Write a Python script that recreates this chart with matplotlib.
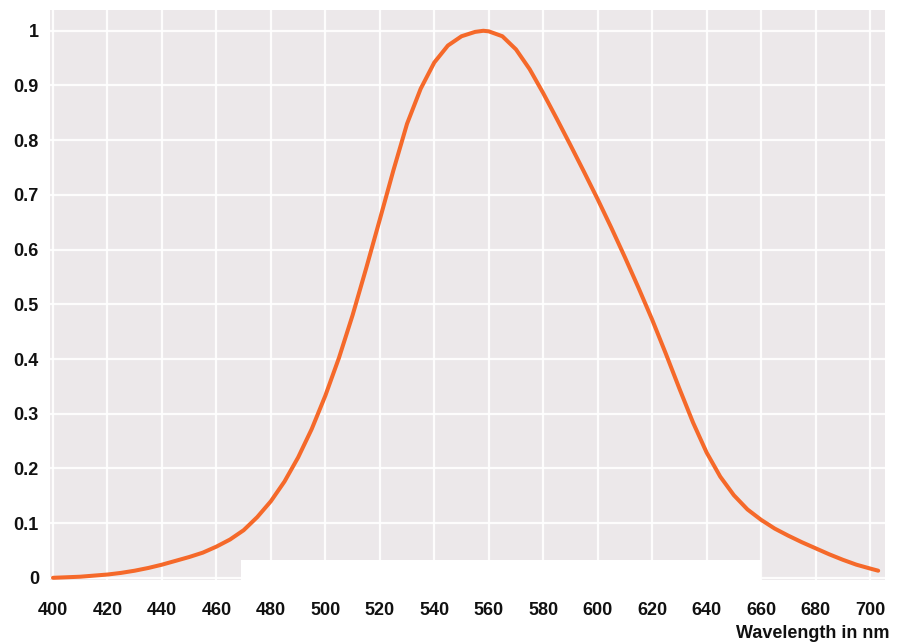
#!/usr/bin/env python3
"""
Relative luminous sensitivity curve vs. wavelength
"""

import matplotlib
matplotlib.use("Agg")
import matplotlib.pyplot as plt
from matplotlib.patches import Rectangle

# wavelength in nm
wavelength = [400, 405, 410, 415, 420, 425, 430, 435, 440, 445, 450, 455,
              460, 465, 470, 475, 480, 485, 490, 495, 500, 505, 510, 515,
              520, 525, 530, 535, 540, 545, 550, 555, 558, 560, 565, 570,
              575, 580, 585, 590, 595, 600, 605, 610, 615, 620, 625, 630,
              635, 640, 645, 650, 655, 660, 665, 670, 675, 680, 685, 690,
              695, 700, 703]
# relative sensitivity
sensitivity = [0.000, 0.001, 0.002, 0.004, 0.006, 0.009, 0.013, 0.018,
               0.024, 0.031, 0.038, 0.046, 0.057, 0.070, 0.087, 0.111,
               0.140, 0.176, 0.220, 0.272, 0.333, 0.402, 0.480, 0.566,
               0.655, 0.745, 0.830, 0.894, 0.942, 0.973, 0.990, 0.998,
               1.000, 0.999, 0.990, 0.966, 0.930, 0.886, 0.839, 0.791,
               0.742, 0.692, 0.640, 0.586, 0.530, 0.472, 0.410, 0.346,
               0.284, 0.229, 0.185, 0.151, 0.125, 0.106, 0.090, 0.077,
               0.065, 0.054, 0.043, 0.033, 0.024, 0.017, 0.013]

x_ticks = list(range(400, 701, 20))
y_ticks = [0, 0.1, 0.2, 0.3, 0.4, 0.5, 0.6, 0.7, 0.8, 0.9, 1.0]
y_tick_labels = ["0", "0.1", "0.2", "0.3", "0.4", "0.5", "0.6", "0.7",
                 "0.8", "0.9", "1"]
x_label = "Wavelength in nm"

plt.rcParams['font.family'] = ['Liberation Sans', 'DejaVu Sans']

fig = plt.figure(figsize=(9.04, 6.43), dpi=100)
fig.patch.set_facecolor('white')
ax = fig.add_axes([50 / 904, 63 / 643, 835 / 904, 570 / 643])
ax.set_facecolor('#ECE8EA')

ax.set_xlim(398.9, 705.5)
ax.set_ylim(-0.004, 1.038)

ax.set_xticks(x_ticks)
ax.set_xticklabels([str(t) for t in x_ticks])
ax.set_yticks(y_ticks)
ax.set_yticklabels(y_tick_labels)
ax.tick_params(axis='both', length=0, labelsize=13, colors='#111111')
ax.tick_params(axis='x', pad=16)
ax.tick_params(axis='y', pad=8)
for lbl in ax.get_xticklabels() + ax.get_yticklabels():
    lbl.set_fontweight('bold')

for s in ax.spines.values():
    s.set_visible(False)

# white grid like the printed graph paper
ax.grid(True, color='white', linewidth=1.6, alpha=0.9)
ax.set_axisbelow(True)

# white strip from the scan along the bottom edge
ax.add_patch(Rectangle((0.229, 0.0), 0.622, 0.035, transform=ax.transAxes,
                       facecolor='white', edgecolor='none', zorder=1.5))

ax.plot(wavelength, sensitivity, color='#F5692A', linewidth=2.9,
        solid_capstyle='round', solid_joinstyle='round', zorder=3)

fig.text(890 / 904, 1 - 633 / 643, x_label, ha='right', va='center',
         fontsize=13, fontweight='bold', color='#111111')

fig.savefig('out.png', dpi=100)
